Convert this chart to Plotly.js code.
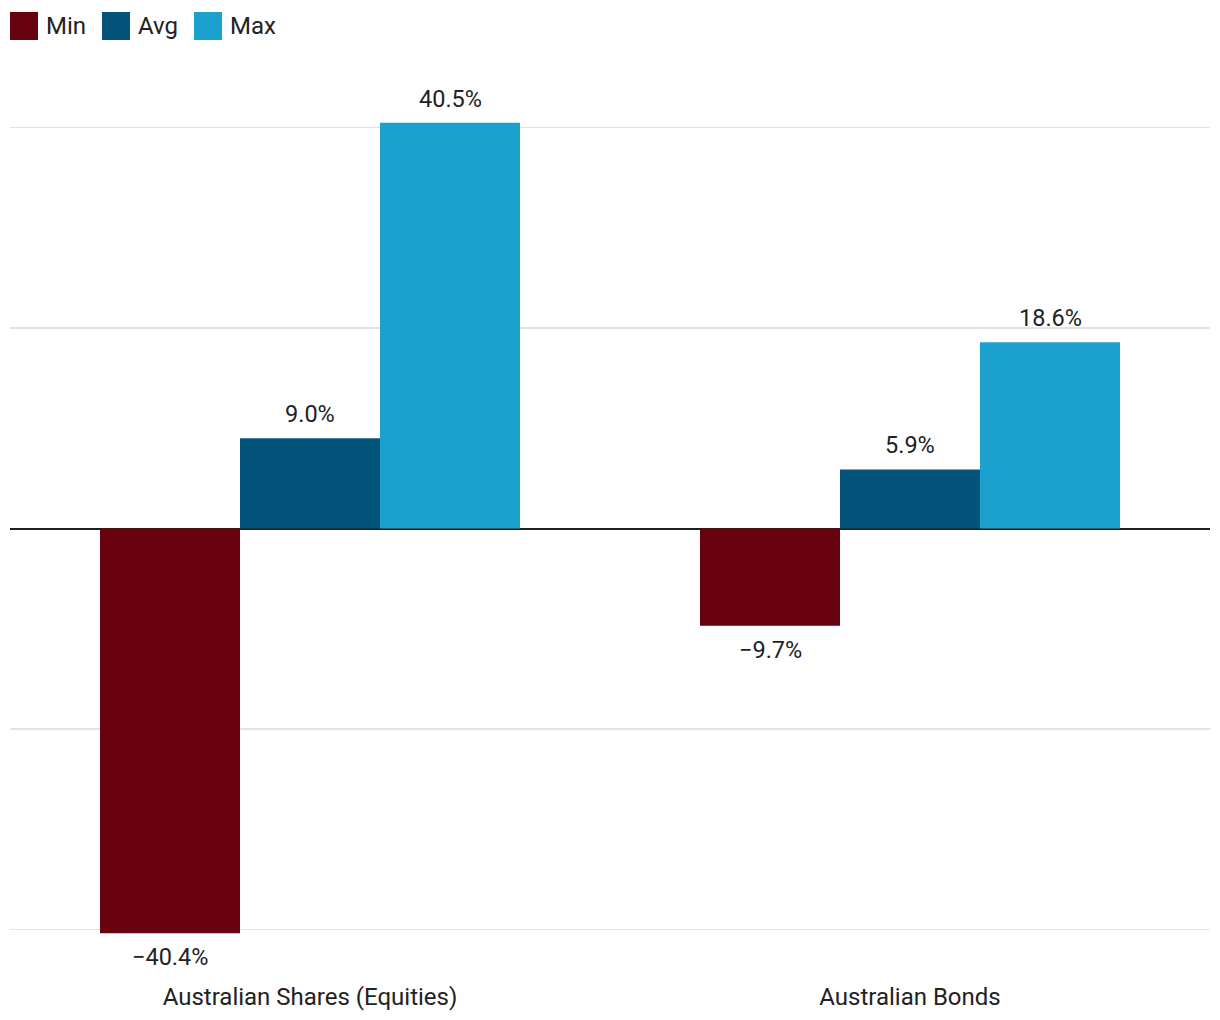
<!DOCTYPE html>
<html>
<head>
<meta charset="utf-8">
<script src="https://cdn.plot.ly/plotly-3.0.1.min.js"></script>
<style>html,body{margin:0;padding:0;background:#fff;}#chart{width:1220px;height:1020px;}</style>
</head>
<body>
<div id="chart"></div>
<script>
// ---- data ----
const categories = ["Australian Shares (Equities)", "Australian Bonds"];
const seriesNames = ["Min", "Avg", "Max"];
const minValues = [-40.4, -9.7];
const avgValues = [9.0, 5.9];
const maxValues = [40.5, 18.6];
const seriesColors = ["#68020e", "#03537a", "#1aa1cd"];

// ---- layout constants ----
const W = 1220, H = 1020;
const M = {l: 10, r: 10, t: 60, b: 40};
const plotW = W - M.l - M.r, plotH = H - M.t - M.b;
const bargap = 0.3;
const FONT = "Roboto, 'Open Sans', sans-serif";
const TXT = "#222222";
const zeroPx = 528.5, pxPerUnit = 10.02;

const seriesValues = [minValues, avgValues, maxValues];
const fmt = v => (v < 0 ? "\u2212" : "") + Math.abs(v).toFixed(1) + "%";

const traces = seriesValues.map((vals, i) => ({
  type: "bar",
  name: seriesNames[i],
  x: categories,
  y: vals,
  marker: {color: seriesColors[i], line: {width: 0}},
  hoverinfo: "skip",
  showlegend: false
}));

// value labels as annotations (offset within group computed from bar width)
const catPx = plotW / categories.length;
const barPx = catPx * (1 - bargap) / seriesValues.length;
const annotations = [];
seriesValues.forEach((vals, i) => {
  vals.forEach((v, j) => {
    annotations.push({
      x: categories[j], y: v, xref: "x", yref: "y",
      text: fmt(v), showarrow: false,
      xanchor: "center", yanchor: "middle",
      xshift: (i - (seriesValues.length - 1) / 2) * barPx,
      yshift: v >= 0 ? 24 : -24,
      font: {family: FONT, size: 23.5, color: TXT}
    });
  });
});

// custom legend (paper coordinates from pixels)
const px2x = p => (p - M.l) / plotW;
const py2y = p => (H - M.b - p) / plotH;
const shapes = [];
const legendX = [10, 102, 194];
seriesNames.forEach((n, i) => {
  shapes.push({
    type: "rect", xref: "paper", yref: "paper",
    x0: px2x(legendX[i]), x1: px2x(legendX[i] + 28),
    y0: py2y(40), y1: py2y(12),
    fillcolor: seriesColors[i], line: {width: 0}
  });
  annotations.push({
    xref: "paper", yref: "paper",
    x: px2x(legendX[i] + 34), y: py2y(26),
    xanchor: "left", yanchor: "middle",
    text: n, showarrow: false,
    font: {family: FONT, size: 24, color: TXT}
  });
});

const layout = {
  width: W, height: H,
  margin: M,
  paper_bgcolor: "#ffffff",
  plot_bgcolor: "#ffffff",
  barmode: "group",
  bargap: bargap,
  bargroupgap: 0,
  showlegend: false,
  font: {family: FONT, size: 24, color: TXT},
  xaxis: {
    type: "category",
    showgrid: false, showline: false, zeroline: false,
    ticks: "", tickfont: {family: FONT, size: 24, color: TXT}
  },
  yaxis: {
    range: [-(H - M.b - zeroPx) / pxPerUnit, (zeroPx - M.t) / pxPerUnit],
    dtick: 20, tick0: 0,
    showticklabels: false, ticks: "",
    showgrid: true, gridcolor: "#e3e3e3", gridwidth: 1.5,
    zeroline: true, zerolinecolor: "#1f1f1f", zerolinewidth: 2,
    showline: false
  },
  annotations: annotations,
  shapes: shapes
};

Plotly.newPlot("chart", traces, layout, {displayModeBar: false, staticPlot: true});
</script>
</body>
</html>
